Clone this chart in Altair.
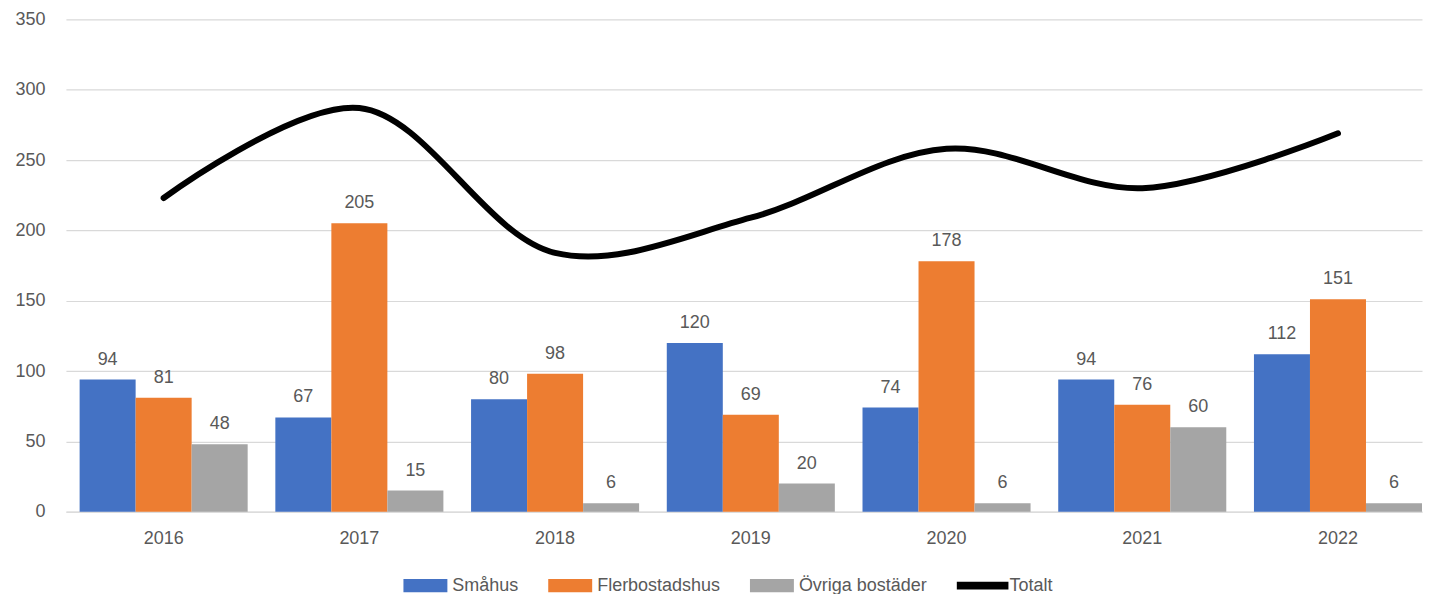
import altair as alt
import pandas as pd

years = ["2016", "2017", "2018", "2019", "2020", "2021", "2022"]
series = ["Småhus", "Flerbostadshus", "Övriga bostäder"]
smahus = [94, 67, 80, 120, 74, 94, 112]
flerbostadshus = [81, 205, 98, 69, 178, 76, 151]
ovriga = [48, 15, 6, 20, 6, 60, 6]
totalt = [223, 287, 184, 209, 258, 230, 269]
colors = ["#4472C4", "#ED7D31", "#A5A5A5", "#000000"]
legend_names = series + ["Totalt"]

rows = []
for vals, s in zip([smahus, flerbostadshus, ovriga], series):
    for y, v in zip(years, vals):
        rows.append({"year": y, "serie": s, "value": v})
bars_df = pd.DataFrame(rows)
line_df = pd.DataFrame({"year": years, "total": totalt})
legend_df = pd.DataFrame({"serie": legend_names})

FONT = "Liberation Sans"
GRAY = "#595959"

# legend symbol paths (drawn at scale sqrt(size)/2 = 11px per unit)
RECT = "M-2,-0.6H2V0.6H-2Z"
LINE = "M-2.35,-0.36H2.35V0.36H-2.35Z"

x_scale = alt.Scale(domain=years, paddingInner=0.1414, paddingOuter=0.035, align=1.0)
y_scale = alt.Scale(domain=[0, 350], nice=False)
color_scale = alt.Scale(domain=legend_names, range=colors)
shape_scale = alt.Scale(domain=legend_names, range=[RECT, RECT, RECT, LINE])

x_enc = alt.X("year:N", scale=x_scale, sort=years,
              axis=alt.Axis(title=None, labelAngle=0, ticks=False, domain=True,
                            domainColor="#d9d9d9", labelPadding=18))
y_enc = alt.Y("value:Q", scale=y_scale,
              axis=alt.Axis(title=None, values=[0, 50, 100, 150, 200, 250, 300, 350],
                            ticks=False, domain=False, labelPadding=21,
                            grid=True, gridColor="#d9d9d9", gridWidth=1.2))

legend = alt.Legend(
    orient="none", legendX=349, legendY=556, direction="horizontal", title=None,
    padding=0, symbolSize=484, symbolStrokeWidth=0, symbolOpacity=1,
    labelFont=FONT, labelFontSize=18, labelColor=GRAY,
    columnPadding=29, labelOffset=16,
)

bars = alt.Chart(bars_df).mark_bar().encode(
    x=x_enc,
    xOffset=alt.XOffset("serie:N", sort=series, scale=alt.Scale(paddingInner=0, paddingOuter=0)),
    y=y_enc,
    color=alt.Color("serie:N", scale=color_scale, legend=legend),
)

labels = alt.Chart(bars_df).mark_text(
    baseline="alphabetic", dy=-15, font=FONT, fontSize=18, color=GRAY
).encode(
    x=alt.X("year:N", sort=years),
    xOffset=alt.XOffset("serie:N", sort=series),
    y=alt.Y("value:Q"),
    text=alt.Text("value:Q"),
)

line = alt.Chart(line_df).mark_line(
    interpolate="catmull-rom", strokeWidth=6, strokeCap="round", strokeJoin="round",
    color="#000000"
).encode(
    x=alt.X("year:N", sort=years),
    y=alt.Y("total:Q"),
)

legend_layer = alt.Chart(legend_df).transform_filter("false").mark_point(
    filled=True, opacity=1
).encode(
    color=alt.Color("serie:N", scale=color_scale, legend=legend),
    shape=alt.Shape("serie:N", scale=shape_scale, legend=legend),
)

chart = alt.layer(bars, labels, line, legend_layer).properties(
    width=1358, height=493,
    padding={"left": 6, "top": 2, "right": 0, "bottom": 0},
).configure_view(stroke=None).configure_axis(
    labelFont=FONT, labelFontSize=18, labelColor=GRAY
)

chart.save("out.html", embed_options={"renderer": "svg", "actions": False})
